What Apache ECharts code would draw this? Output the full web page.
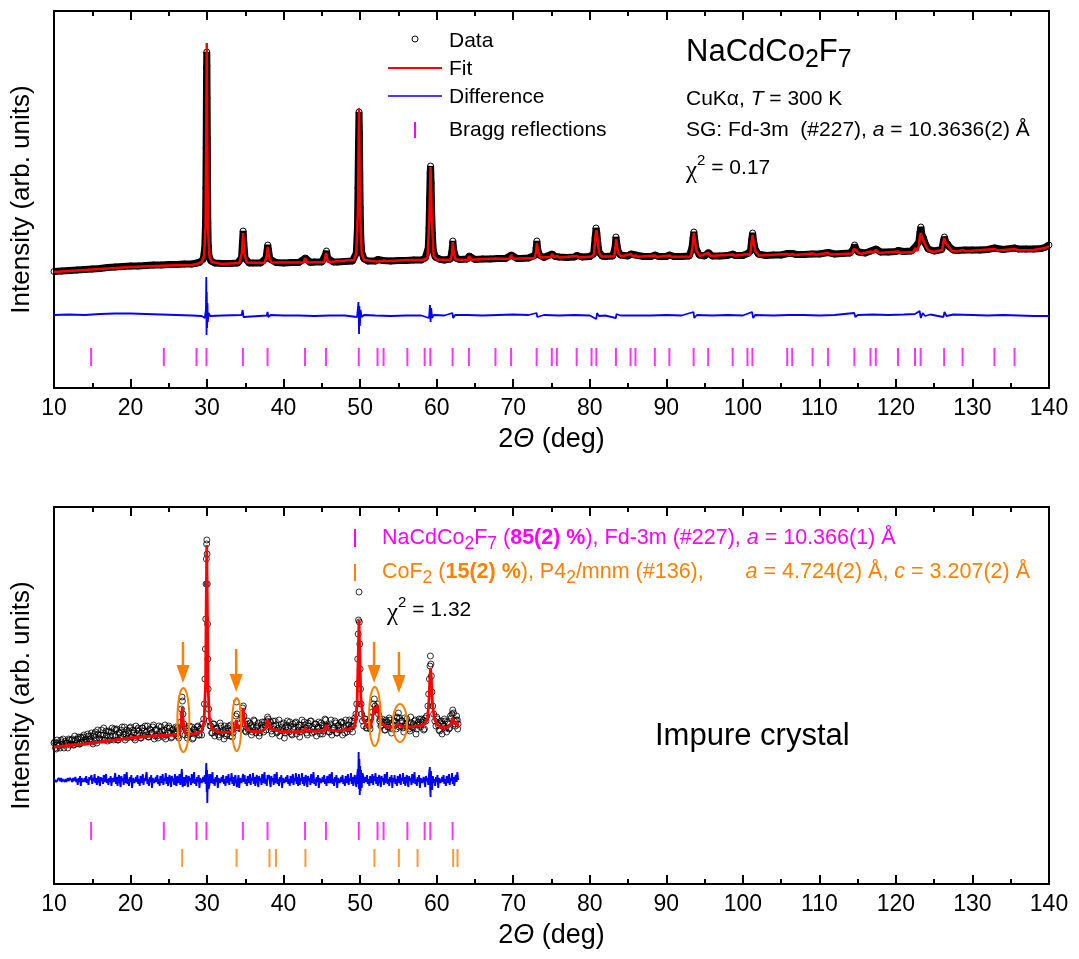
<!DOCTYPE html>
<html><head><meta charset="utf-8">
<script src="https://cdn.jsdelivr.net/npm/echarts@6/dist/echarts.min.js"></script>
<style>html,body{margin:0;padding:0;background:#fff}#c{width:1079px;height:959px}</style>
</head><body><div id="c"></div>
<script>
// ---------------- DATA ----------------
const xTickValues = [10,20,30,40,50,60,70,80,90,100,110,120,130,140];

// NaCdCo2F7 Bragg reflection positions (2theta, deg)
const braggNaCdCo2F7 = [14.85,24.35,28.62,29.92,34.68,37.9,42.8,45.53,49.82,52.27,53.06,56.17,58.43,59.17,62.08,64.21,67.68,69.72,73.06,75.04,75.7,78.29,80.23,80.86,83.42,85.33,85.97,88.5,90.4,93.57,95.47,98.67,100.6,101.25,105.8,106.45,109.11,111.13,114.57,116.68,117.37,120.27,122.49,123.23,126.3,128.71,132.87,135.5];
const braggNaCdCo2F7Impure = [14.85,24.35,28.62,29.92,34.68,37.9,42.8,45.53,49.82,52.27,53.06,56.17,58.43,59.17,62.08];
const braggCoF2 = [26.75,33.86,38.15,39.0,42.85,51.87,55.05,57.5,62.15,62.72];

// Top pattern (pure sample), intensity in arb. units
const topObs = [[10,116.5],[11,117],[12,117.5],[13,118],[14,118.5],[15,119],[16,119.5],[17,120.5],[18,121],[19,121.5],[20,122],[21,122],[22,122.5],[23,123],[24,123],[25,123.5],[26,123.5],[27,124],[28,124],[28.66,125],[29,125.5],[29.5,129],[29.7,140],[29.8,165],[29.85,200],[29.88,240],[29.91,285],[29.94,320],[29.96,336],[29.98,322],[30.0,290],[30.03,250],[30.06,205],[30.1,165],[30.15,142],[30.25,132],[30.5,127],[31,125],[32,124.5],[33,124.5],[34,125],[34.5,130],[34.62,145],[34.71,157],[34.8,145],[34.95,130],[35.5,125],[36,125],[37,125],[37.7,130],[37.85,138],[37.93,143],[38.02,138],[38.2,129],[39,125.5],[40,125],[41,125.5],[42,125.5],[42.83,130],[43.5,125.5],[44,126],[45,126],[45.5,134],[45.6,137],[45.75,130],[46.5,126],[47,126],[48,126.5],[49,127],[49.5,135],[49.65,160],[49.72,200],[49.78,240],[49.85,276],[49.9,255],[49.95,215],[50.0,180],[50.08,150],[50.2,136],[50.5,129],[51,127],[52,127],[52.3,128.5],[53,127.5],[54,127],[55,127.5],[56,127.5],[57,128],[58,128],[58.5,130],[58.9,140],[59.0,160],[59.08,190],[59.15,215],[59.2,222],[59.27,205],[59.33,180],[59.42,155],[59.55,138],[59.8,131],[60.5,128.5],[61,128],[61.8,129],[62.0,137],[62.11,147],[62.22,138],[62.5,130],[63,128.5],[64,129],[64.24,132],[65,128.5],[66,129],[67,129],[68,129.5],[69,129.5],[69.75,133],[70.5,129.5],[71,129.5],[72,130],[72.9,133],[73.0,140],[73.09,147],[73.2,139],[73.4,133],[74,130.5],[75.07,134],[75.5,131.5],[76,131],[77,130.5],[78,131],[78.32,132.5],[79,131],[80,131.5],[80.5,134],[80.7,150],[80.82,160],[80.92,155],[81.05,145],[81.2,136],[81.6,132],[82,131.5],[83,132],[83.3,140],[83.42,151],[83.55,143],[83.7,137],[84,133],[85,132],[85.36,134],[86,133],[87,131.5],[88,131.5],[88.53,133],[89,131.5],[90,131.5],[90.43,133],[91,131.5],[92,131.5],[93,132],[93.35,140],[93.5,150],[93.6,156],[93.72,148],[93.9,139],[94.3,133],[95,132],[95.5,135.5],[96,132],[97,132],[98,132.5],[98.7,134],[99,132.5],[100,132.5],[100.63,134.5],[101.0,137],[101.15,148],[101.28,155],[101.4,147],[101.6,139],[102,134],[103,132.5],[104,133],[105,133],[105.83,134.5],[106.48,134.5],[107,133.5],[108,133.5],[109,134],[110,134],[111.16,135.5],[112,134],[113,134.5],[114,135],[114.45,139],[114.6,143],[114.78,139],[115.1,136],[116,135],[116.71,137],[117.4,139],[118,136],[119,136],[120,136.5],[120.3,137.5],[121,136.5],[122,137],[122.52,141],[123.0,146],[123.15,156],[123.26,161],[123.4,153],[123.6,150],[123.8,145],[124.2,139],[125,137],[126,138.5],[126.2,147],[126.33,151],[126.5,146],[126.75,144],[127,141],[127.5,138],[128,137.5],[129,138],[130,138],[131,138],[132,138.5],[132.9,140],[134,138.5],[135.53,140],[136,139],[137,139],[138,139],[139,139.5],[139.6,141],[140,143]];

const topCalc = [[10,116],[15,118.5],[20,121],[25,122.5],[28,123],[28.66,124],[29.3,126],[29.6,132],[29.8,160],[29.9,260],[29.96,345],[30.02,260],[30.12,160],[30.3,132],[30.6,126],[32,124],[34.2,125],[34.55,135],[34.71,155],[34.87,135],[35.2,125.5],[37.5,125],[37.8,132],[37.93,141],[38.06,132],[38.4,125.5],[42.6,125.5],[42.83,130],[43.05,125.5],[45.3,126],[45.56,135],[45.8,126],[49.2,128],[49.5,135],[49.72,180],[49.85,280],[49.98,180],[50.2,135],[50.5,128],[52.1,126.5],[52.3,128],[52.5,126.5],[53.1,127.5],[53.4,126.8],[56.2,128],[58.2,128],[58.46,130],[58.8,130],[59.05,170],[59.2,221],[59.35,170],[59.6,132],[60,128.5],[61.8,128],[62.0,134],[62.11,146],[62.25,134],[62.5,128.5],[64.05,128],[64.24,132],[64.45,128.2],[67.7,129.5],[69.5,129],[69.75,133],[70,129.2],[72.8,130],[72.98,136],[73.09,145],[73.25,136],[73.5,130.5],[74.9,131],[75.07,134],[75.3,131],[75.73,132],[76,130.5],[78.32,132],[78.6,130.6],[80.3,131.5],[80.55,134],[80.75,152],[80.89,158],[81.05,146],[81.2,136],[81.5,131.5],[83.2,131.5],[83.35,140],[83.45,149],[83.6,140],[83.75,135],[84.1,131.5],[85.36,134],[85.7,131.5],[86.0,132.5],[86.3,131.2],[88.53,132.5],[88.8,131],[90.43,132.5],[90.7,131.2],[93.2,131.5],[93.4,140],[93.6,155],[93.78,145],[93.95,137],[94.4,132],[95.5,135],[95.8,132],[98.7,133.5],[99,132.2],[100.63,134],[100.9,132.5],[101.0,136],[101.15,146],[101.28,153],[101.45,144],[101.65,137],[102.1,132.5],[105.83,134],[106.1,133],[106.48,134],[106.8,133],[109.14,134.5],[109.5,133.2],[111.16,135],[111.5,133.5],[114.3,134.5],[114.48,139],[114.6,141],[114.8,138],[115.1,135],[115.5,134.2],[116.71,136.5],[117.05,135.5],[117.4,138],[117.8,135],[120.3,136.5],[120.6,135.2],[122.3,136],[122.52,140],[122.8,137],[123.0,142],[123.15,152],[123.26,155],[123.45,150],[123.6,148],[123.8,144],[124.2,138],[124.8,136],[126.05,138],[126.2,146],[126.33,150],[126.5,145],[126.75,143],[126.95,141],[127.3,137],[128,136.5],[128.74,138],[129.1,136.8],[132.9,139],[133.3,137.5],[135.53,139],[136,137.8],[138,138],[139.5,140],[140,142]];

const topDiff = [[10,73],[12,73.5],[14,73],[16,74],[18,74.5],[20,74.5],[22,74],[24,73.5],[26,73],[28,72.5],[29.3,72],[29.7,70],[29.85,78],[29.9,111],[29.93,53],[29.96,96],[30.0,60],[30.05,85],[30.1,66],[30.2,75],[30.4,72],[32,72.5],[34.5,73],[34.65,78],[34.75,71],[35,73],[37.8,72.5],[37.9,76],[38,71],[38.3,73],[40,72.5],[42,72.5],[44,72],[46,72.5],[48,72.5],[49.6,71],[49.78,86],[49.85,54],[49.9,82],[49.96,62],[50.05,78],[50.2,71],[50.5,73],[52,72.5],[54,72],[56,72.5],[58,72.5],[59.0,70],[59.12,83],[59.2,66],[59.28,80],[59.4,70],[59.6,73],[61,72.5],[62.05,75],[62.15,70],[62.4,73],[64,73],[66,72.5],[68,73],[70,73.5],[72,73],[73.05,75],[73.15,71],[74,73],[76,72.5],[78,73],[80,72.5],[80.85,69],[80.95,75],[81.2,72],[82,72.5],[83.4,70],[83.5,74],[84,72.5],[86,72.5],[88,72.5],[90,73],[92,72.5],[93.55,76],[93.65,70],[94,73],[96,72.5],[98,73],[100,72.5],[101.2,76],[101.35,70],[101.6,73],[104,72.5],[106,73],[108,73],[110,72.5],[112,73],[114.55,75],[114.7,71],[115,73],[117,73.5],[119,73],[121,73.5],[122.5,74],[123.1,77],[123.25,70],[123.5,75],[123.8,72],[124.5,73.5],[126.2,71],[126.35,76],[126.6,72],[127.5,73.5],[130,73],[132,72.5],[134,73],[136,72.5],[138,72],[140,72]];

// Bottom pattern (impure crystal)
const botObs = [[10.0,141],[10.2,136],[10.4,144],[10.6,139],[10.8,136],[11.0,142],[11.2,145],[11.4,139],[11.6,141],[11.8,136],[12.0,144],[12.2,140],[12.4,145],[12.6,139],[12.8,144],[13.0,141],[13.2,147],[13.4,140],[13.6,146],[13.8,147],[14.0,142],[14.2,144],[14.4,150],[14.6,144],[14.8,148],[15.0,142],[15.2,148],[15.4,152],[15.6,141],[15.8,150],[16.0,145],[16.2,154],[16.4,149],[16.6,144],[16.8,153],[17.0,143],[17.2,152],[17.4,148],[17.6,156],[17.8,144],[18.0,148],[18.2,155],[18.4,144],[18.6,151],[18.8,154],[19.0,147],[19.2,157],[19.4,150],[19.6,146],[19.8,153],[20.0,157],[20.2,147],[20.4,151],[20.6,144],[20.8,154],[21.0,156],[21.2,149],[21.4,146],[21.6,156],[21.8,153],[22.0,149],[22.2,158],[22.4,147],[22.6,154],[22.8,151],[23.0,159],[23.2,148],[23.4,155],[23.6,146],[23.8,152],[24.0,157],[24.2,149],[24.4,154],[24.6,145],[24.8,156],[25.0,158],[25.2,151],[25.4,147],[25.6,155],[25.8,150],[26.0,153],[26.2,148],[26.4,155],[26.55,162],[26.65,175],[26.72,187],[26.78,183],[26.85,170],[26.95,160],[27.1,149],[27.2,156],[27.4,146],[27.6,153],[27.8,150],[28.0,157],[28.2,146],[28.4,154],[28.6,151],[28.8,158],[29.0,149],[29.2,156],[29.4,160],[29.55,165],[29.65,180],[29.72,205],[29.78,235],[29.83,265],[29.87,300],[29.91,325],[29.94,340],[29.97,344],[30.0,330],[30.03,300],[30.06,260],[30.1,225],[30.14,195],[30.2,175],[30.28,163],[30.4,158],[30.6,151],[30.8,160],[31.0,148],[31.2,156],[31.4,153],[31.6,147],[31.8,158],[32.0,152],[32.2,145],[32.4,155],[32.6,150],[32.8,158],[33.0,148],[33.2,154],[33.4,151],[33.6,159],[33.75,168],[33.84,182],[33.92,170],[34.05,156],[34.2,160],[34.4,155],[34.55,165],[34.65,176],[34.74,178],[34.82,168],[34.95,160],[35.1,152],[35.2,160],[35.4,154],[35.6,161],[35.8,149],[36.0,157],[36.2,163],[36.4,151],[36.6,158],[36.8,148],[37.0,155],[37.2,162],[37.4,152],[37.6,159],[37.8,163],[37.9,167],[38.0,165],[38.15,157],[38.3,162],[38.5,150],[38.7,158],[38.9,163],[39.1,151],[39.3,156],[39.5,148],[39.7,160],[39.9,153],[40.1,146],[40.3,157],[40.5,163],[40.7,152],[40.9,158],[41.1,149],[41.3,155],[41.5,161],[41.7,150],[41.9,157],[42.1,147],[42.3,159],[42.5,154],[42.7,162],[42.9,156],[43.1,149],[43.3,158],[43.5,163],[43.7,151],[43.9,155],[44.1,160],[44.3,148],[44.5,157],[44.7,153],[44.9,161],[45.1,150],[45.3,158],[45.5,164],[45.7,157],[45.9,152],[46.1,160],[46.3,149],[46.5,156],[46.7,163],[46.9,151],[47.1,158],[47.3,154],[47.5,162],[47.7,149],[47.9,157],[48.1,164],[48.3,152],[48.5,159],[48.7,155],[48.9,163],[49.1,158],[49.3,166],[49.45,170],[49.55,180],[49.62,200],[49.68,225],[49.74,250],[49.79,264],[49.85,292],[49.9,262],[49.95,240],[50.0,215],[50.05,195],[50.12,180],[50.2,170],[50.3,163],[50.45,158],[50.6,165],[50.8,156],[51.0,162],[51.2,158],[51.4,166],[51.6,172],[51.75,180],[51.85,185],[51.95,178],[52.05,174],[52.2,176],[52.3,180],[52.4,170],[52.55,163],[52.7,158],[52.9,165],[53.1,161],[53.3,154],[53.5,162],[53.7,157],[53.9,164],[54.1,151],[54.3,159],[54.5,163],[54.7,155],[54.85,166],[55.0,171],[55.15,166],[55.3,158],[55.5,163],[55.7,152],[55.9,160],[56.1,165],[56.3,157],[56.5,153],[56.7,161],[56.9,156],[57.1,163],[57.3,150],[57.5,159],[57.7,165],[57.9,157],[58.1,162],[58.3,154],[58.5,166],[58.7,168],[58.85,178],[58.95,190],[59.05,205],[59.12,218],[59.18,228],[59.24,220],[59.3,208],[59.38,192],[59.48,178],[59.6,170],[59.75,163],[59.9,158],[60.1,165],[60.3,154],[60.5,161],[60.7,150],[60.9,158],[61.1,163],[61.3,152],[61.5,160],[61.7,156],[61.9,166],[62.0,170],[62.1,174],[62.2,171],[62.3,163],[62.45,158],[62.6,168],[62.7,164],[62.8,160]];

const botObsExtra = [[10.1,142],[10.3,135],[10.5,141],[10.7,138],[10.9,144],[11.1,140],[11.3,136],[11.5,143],[11.7,141],[11.9,145],[12.1,139],[12.3,144],[12.5,139],[12.7,148],[12.9,141],[13.1,145],[13.3,140],[13.5,147],[13.7,142],[13.9,149],[14.1,145],[14.3,142],[14.5,148],[14.7,145],[14.9,151],[15.1,140],[15.3,150],[15.5,144],[15.7,154],[15.9,146],[16.1,149],[16.3,144],[16.5,156],[16.7,146],[16.9,149],[17.1,153],[17.3,144],[17.5,152],[17.7,148],[17.9,155],[18.1,154],[18.3,144],[18.5,151],[18.7,147],[18.9,157],[19.1,150],[19.3,144],[19.5,154],[19.7,151],[19.9,156],[20.1,147],[20.3,154],[20.5,146],[20.7,158],[20.9,150],[21.1,153],[21.3,146],[21.5,156],[21.7,149],[21.9,158],[22.1,152],[22.3,147],[22.5,155],[22.7,151],[22.9,157],[23.1,145],[23.3,154],[23.5,148],[23.7,158],[23.9,150],[24.1,153],[24.3,147],[24.5,159],[24.7,149],[24.9,152],[25.1,156],[25.3,146],[25.5,154],[25.7,151],[25.9,157],[26.1,156],[26.3,146],[27.3,153],[27.5,149],[27.7,158],[27.9,151],[28.1,145],[28.3,155],[28.5,152],[28.7,157],[28.9,149],[29.1,155],[29.3,149],[30.5,158],[30.7,151],[30.9,160],[31.1,152],[31.3,155],[31.5,149],[31.7,161],[31.9,151],[32.1,154],[32.3,158],[32.5,148],[32.7,156],[32.9,153],[33.1,159],[33.3,147],[33.5,157],[35.0,153],[35.3,163],[35.5,155],[35.7,158],[35.9,152],[36.1,164],[36.3,154],[36.5,157],[36.7,161],[36.9,151],[37.1,159],[37.3,156],[37.5,162],[37.7,154],[38.1,160],[38.4,153],[38.6,163],[38.8,155],[39.0,159],[39.2,152],[39.4,164],[39.6,154],[39.8,157],[40.0,161],[40.2,151],[40.4,159],[40.6,156],[40.8,162],[41.0,150],[41.2,160],[41.4,157],[41.6,162],[41.8,153],[42.0,159],[42.2,152],[42.4,164],[42.6,155],[42.8,159],[43.0,151],[43.2,161],[43.4,154],[43.6,163],[43.8,157],[44.0,152],[44.2,160],[44.4,156],[44.6,162],[44.8,150],[45.0,159],[45.2,153],[45.4,165],[45.6,158],[45.8,158],[46.0,152],[46.2,164],[46.4,154],[46.6,157],[46.8,161],[47.0,151],[47.2,159],[47.4,156],[47.6,162],[47.8,161],[48.0,151],[48.2,158],[48.4,155],[48.6,164],[48.8,157],[49.0,152],[49.2,163],[50.7,165],[50.9,156],[51.1,162],[51.3,155],[52.6,165],[52.8,159],[53.0,162],[53.2,154],[53.4,164],[53.6,157],[53.8,166],[54.0,160],[54.2,155],[54.4,163],[54.6,159],[54.8,167],[55.1,157],[55.4,163],[55.6,156],[55.8,166],[56.0,158],[56.2,161],[56.4,155],[56.6,167],[56.8,157],[57.0,160],[57.2,164],[57.4,155],[57.6,162],[57.8,159],[58.0,165],[58.2,164],[58.4,155],[58.6,163],[60.0,167],[60.2,159],[60.4,153],[60.6,163],[60.8,160],[61.0,165],[61.2,156],[61.4,162],[61.6,155],[61.8,168],[62.4,160],[62.55,164],[62.75,155]];

const botCalc = [[10,137],[12,138.5],[14,140],[16,142],[18,144],[20,146],[22,147.5],[24,148.5],[26,149],[26.4,150],[26.6,160],[26.76,177],[26.92,160],[27.1,151],[27.6,149.5],[28.66,150.5],[29.3,153],[29.6,162],[29.8,200],[29.9,290],[29.96,339],[30.02,290],[30.12,200],[30.3,165],[30.6,156],[31,153],[32,151.5],[33.5,152],[33.7,158],[33.84,164],[33.98,157],[34.3,155],[34.55,162],[34.71,176],[34.87,163],[35.1,156],[35.6,153],[37,152],[37.7,156],[37.93,164],[38.1,160],[38.3,155],[38.98,154],[39.5,152.5],[41,152],[42.6,152.5],[42.83,156],[43.1,153],[45.3,153],[45.56,159],[45.8,154],[47,153],[48.5,154.5],[49.3,158],[49.6,180],[49.75,230],[49.85,264],[49.95,230],[50.1,185],[50.4,165],[50.8,158],[51.3,157],[51.6,165],[51.8,177],[51.95,172],[52.1,172],[52.3,179],[52.5,166],[52.8,160],[53.09,159],[53.5,157],[54.5,157],[54.85,159],[55.0,161],[55.2,159],[55.6,157],[56.2,157.5],[56.6,157],[57.4,158],[58.1,158.5],[58.46,160],[58.8,165],[59.0,185],[59.1,205],[59.2,216],[59.3,205],[59.45,180],[59.7,165],[60.1,159],[60.6,156.5],[61.5,157],[61.9,160],[62.11,166],[62.3,160],[62.5,158],[62.65,162],[62.8,156]];

const botDiff = [[10.0,105],[10.1,103],[10.2,106],[10.3,102],[10.4,104],[10.5,102],[10.6,106],[10.7,104],[10.8,103],[10.9,106],[11.0,102],[11.1,105],[11.2,104],[11.3,107],[11.4,102],[11.5,105],[11.6,102],[11.7,104],[11.8,106],[11.9,103],[12.0,101],[12.1,106],[12.2,104],[12.3,105],[12.4,102],[12.5,106],[12.6,103],[12.7,104],[12.8,107],[12.9,102],[13.0,105],[13.1,99],[13.2,106],[13.3,102],[13.4,108],[13.5,98],[13.6,106],[13.7,107],[13.8,102],[13.9,103],[14.0,106],[14.1,102],[14.2,108],[14.3,101],[14.4,105],[14.5,99],[14.6,107],[14.7,104],[14.8,102],[14.9,109],[15.0,100],[15.1,106],[15.2,103],[15.3,110],[15.4,101],[15.5,106],[15.6,99],[15.7,105],[15.8,108],[15.9,102],[16.0,98],[16.1,107],[16.2,103],[16.3,106],[16.4,100],[16.5,109],[16.6,102],[16.7,104],[16.8,110],[16.9,101],[17.0,105],[17.1,99],[17.2,106],[17.3,102],[17.4,108],[17.5,98],[17.6,106],[17.7,107],[17.8,102],[17.9,103],[18.0,111],[18.1,100],[18.2,107],[18.3,98],[18.4,105],[18.5,109],[18.6,102],[18.7,97],[18.8,108],[18.9,103],[19.0,106],[19.1,99],[19.2,110],[19.3,101],[19.4,104],[19.5,112],[19.6,100],[19.7,105],[19.8,98],[19.9,107],[20.0,102],[20.1,109],[20.2,96],[20.3,106],[20.4,108],[20.5,101],[20.6,103],[20.7,107],[20.8,102],[20.9,109],[21.0,100],[21.1,105],[21.2,98],[21.3,108],[21.4,104],[21.5,101],[21.6,110],[21.7,99],[21.8,106],[21.9,103],[22.0,104],[22.1,112],[22.2,100],[22.3,105],[22.4,98],[22.5,107],[22.6,102],[22.7,109],[22.8,96],[22.9,106],[23.0,108],[23.1,101],[23.2,103],[23.3,107],[23.4,102],[23.5,109],[23.6,100],[23.7,105],[23.8,98],[23.9,108],[24.0,104],[24.1,101],[24.2,110],[24.3,99],[24.4,106],[24.5,103],[24.6,111],[24.7,100],[24.8,107],[24.9,98],[25.0,105],[25.1,109],[25.2,102],[25.3,97],[25.4,108],[25.5,103],[25.6,106],[25.7,99],[25.8,110],[25.9,101],[26.0,98],[26.1,108],[26.2,104],[26.3,101],[26.4,110],[26.5,99],[26.6,106],[26.7,115],[26.8,97],[26.9,100],[27.0,107],[27.1,98],[27.2,105],[27.3,109],[27.4,102],[27.5,97],[27.6,108],[27.7,103],[27.8,106],[27.9,99],[28.0,110],[28.1,101],[28.2,104],[28.3,112],[28.4,100],[28.5,105],[28.6,98],[28.7,107],[28.8,102],[28.9,109],[29.0,96],[29.1,106],[29.2,108],[29.3,101],[29.4,103],[29.5,107],[29.6,102],[29.7,109],[29.8,100],[29.9,121],[29.95,92],[30.0,114],[30.03,81],[30.1,110],[30.2,95],[30.3,99],[30.4,110],[30.5,101],[30.6,104],[30.7,112],[30.8,100],[30.9,105],[31.0,98],[31.1,107],[31.2,102],[31.3,109],[31.4,96],[31.5,106],[31.6,108],[31.7,101],[31.8,103],[31.9,107],[32.0,102],[32.1,109],[32.2,100],[32.3,105],[32.4,98],[32.5,108],[32.6,104],[32.7,101],[32.8,110],[32.9,99],[33.0,106],[33.1,103],[33.2,111],[33.3,100],[33.4,107],[33.5,98],[33.6,105],[33.7,109],[33.8,102],[33.9,97],[34.0,102],[34.1,109],[34.2,96],[34.3,106],[34.4,108],[34.5,101],[34.6,103],[34.7,110],[34.8,102],[34.9,109],[35.0,100],[35.1,105],[35.2,98],[35.3,108],[35.4,104],[35.5,101],[35.6,110],[35.7,99],[35.8,106],[35.9,103],[36.0,111],[36.1,100],[36.2,107],[36.3,98],[36.4,105],[36.5,109],[36.6,102],[36.7,97],[36.8,108],[36.9,103],[37.0,106],[37.1,99],[37.2,110],[37.3,101],[37.4,104],[37.5,112],[37.6,100],[37.7,105],[37.8,98],[37.9,109],[38.0,105],[38.1,109],[38.2,102],[38.3,97],[38.4,108],[38.5,103],[38.6,106],[38.7,99],[38.8,110],[38.9,101],[39.0,104],[39.1,112],[39.2,100],[39.3,105],[39.4,98],[39.5,107],[39.6,102],[39.7,109],[39.8,96],[39.9,106],[40.0,108],[40.1,101],[40.2,103],[40.3,107],[40.4,102],[40.5,109],[40.6,100],[40.7,105],[40.8,98],[40.9,108],[41.0,104],[41.1,101],[41.2,110],[41.3,99],[41.4,106],[41.5,103],[41.6,111],[41.7,100],[41.8,107],[41.9,98],[42.0,110],[42.1,99],[42.2,106],[42.3,103],[42.4,111],[42.5,100],[42.6,107],[42.7,98],[42.8,105],[42.9,109],[43.0,102],[43.1,97],[43.2,108],[43.3,103],[43.4,106],[43.5,99],[43.6,110],[43.7,101],[43.8,104],[43.9,112],[44.0,100],[44.1,105],[44.2,98],[44.3,107],[44.4,102],[44.5,109],[44.6,96],[44.7,106],[44.8,108],[44.9,101],[45.0,103],[45.1,107],[45.2,102],[45.3,109],[45.4,100],[45.5,105],[45.6,98],[45.7,108],[45.8,104],[45.9,101],[46.0,110],[46.1,101],[46.2,104],[46.3,112],[46.4,100],[46.5,105],[46.6,98],[46.7,107],[46.8,102],[46.9,109],[47.0,96],[47.1,106],[47.2,108],[47.3,101],[47.4,103],[47.5,107],[47.6,102],[47.7,109],[47.8,100],[47.9,105],[48.0,98],[48.1,108],[48.2,104],[48.3,101],[48.4,110],[48.5,99],[48.6,106],[48.7,103],[48.8,111],[48.9,100],[49.0,107],[49.1,98],[49.2,105],[49.3,109],[49.4,102],[49.5,97],[49.6,108],[49.7,115],[49.75,100],[49.8,132],[49.85,95],[49.9,125],[49.95,89],[50.0,118],[50.05,93],[50.1,114],[50.2,96],[50.3,111],[50.4,108],[50.5,101],[50.6,103],[50.7,107],[50.8,102],[50.9,109],[51.0,100],[51.1,105],[51.2,98],[51.3,108],[51.4,104],[51.5,101],[51.6,110],[51.7,99],[51.8,108],[51.9,103],[52.0,111],[52.1,100],[52.2,107],[52.3,98],[52.4,105],[52.5,109],[52.6,102],[52.7,97],[52.8,108],[52.9,103],[53.0,106],[53.1,99],[53.2,110],[53.3,101],[53.4,104],[53.5,112],[53.6,100],[53.7,105],[53.8,98],[53.9,107],[54.0,102],[54.1,109],[54.2,96],[54.3,106],[54.4,102],[54.5,109],[54.6,100],[54.7,105],[54.8,98],[54.9,108],[55.0,104],[55.1,101],[55.2,110],[55.3,99],[55.4,106],[55.5,103],[55.6,111],[55.7,100],[55.8,107],[55.9,98],[56.0,105],[56.1,109],[56.2,102],[56.3,97],[56.4,108],[56.5,103],[56.6,106],[56.7,99],[56.8,110],[56.9,101],[57.0,104],[57.1,112],[57.2,100],[57.3,105],[57.4,98],[57.5,107],[57.6,102],[57.7,109],[57.8,96],[57.9,106],[58.0,108],[58.1,101],[58.2,103],[58.3,107],[58.4,102],[58.5,97],[58.6,108],[58.7,103],[58.8,106],[58.9,99],[59.0,110],[59.1,117],[59.15,95],[59.2,87],[59.25,113],[59.3,100],[59.4,94],[59.5,108],[59.6,101],[59.7,105],[59.8,98],[59.9,107],[60.0,102],[60.1,109],[60.2,96],[60.3,106],[60.4,108],[60.5,101],[60.6,103],[60.7,107],[60.8,102],[60.9,109],[61.0,100],[61.1,105],[61.2,98],[61.3,108],[61.4,104],[61.5,101],[61.6,110],[61.7,99],[61.8,106],[61.9,103],[62.0,111],[62.1,100],[62.2,107],[62.3,98],[62.4,105],[62.5,109],[62.6,102],[62.7,112],[62.8,104]];

// Impurity markers: [2theta center, intensity center, width (deg), height (arb.)]
const impurityEllipses = [[26.9,164,1.57,64],[33.87,159.5,1.2,53],[51.91,167.5,1.5,59],[55.2,161,1.83,38]];
// Arrows: [2theta, intensity top, intensity tip]
const impurityArrows = [[26.85,242,201],[33.8,235,192],[51.82,242,201],[55.07,232,191]];

// ---------------- STYLE / LAYOUT ----------------
const FONT = '"Liberation Sans", Arial, Helvetica, sans-serif';
const MAGENTA = '#ff00ff', ORANGE = '#ff8000', RED = '#ff0000', BLUE = '#0000ff';
const Y_MAX = 377;
const BRAGG_Y_TOP = 31, BRAGG_Y_BOT_MAIN = 53, BRAGG_Y_BOT_IMP = 26;

const chart = echarts.init(document.getElementById('c'), null, {renderer: 'canvas'});

function xAxisCfg(gi, pos, labels) {
  return {
    type: 'value', gridIndex: gi, position: pos, min: 10, max: 140, interval: 10,
    axisLine: {show: true, onZero: false, lineStyle: {color: '#000', width: 2}},
    axisTick: {show: true, inside: true, length: 9, lineStyle: {color: '#000', width: 2}},
    minorTick: {show: true, splitNumber: 2, length: 5, lineStyle: {color: '#000', width: 2}},
    axisLabel: {show: labels, fontSize: 23, color: '#000', margin: 9, fontFamily: FONT,
      formatter: v => xTickValues.indexOf(v) >= 0 ? String(v) : ''},
    splitLine: {show: false},
    name: labels ? '2{i|Θ} (deg)' : '', nameLocation: 'middle', nameGap: 38,
    nameTextStyle: {fontSize: 27, color: '#000', fontFamily: FONT,
      rich: {i: {fontSize: 27, fontStyle: 'italic', fontFamily: FONT, color: '#000'}}}
  };
}
function yAxisCfg(gi, pos, named) {
  return {
    type: 'value', gridIndex: gi, position: pos, min: 0, max: Y_MAX,
    axisLine: {show: true, onZero: false, lineStyle: {color: '#000', width: 2}},
    axisTick: {show: false}, axisLabel: {show: false}, splitLine: {show: false},
    name: named ? 'Intensity (arb. units)' : '', nameLocation: 'middle', nameGap: 19,
    nameTextStyle: {fontSize: 26, color: '#000', fontFamily: FONT}
  };
}

function ellipseRender(params, api) {
  const c = api.coord([api.value(0), api.value(1)]);
  const s = api.size([api.value(2), api.value(3)]);
  const rx = s[0] / 2, ry = s[1] / 2, pts = [];
  for (let i = 0; i < 60; i++) {
    const a = i / 60 * Math.PI * 2;
    pts.push([c[0] + rx * Math.cos(a), c[1] + ry * Math.sin(a)]);
  }
  return {type: 'polygon', shape: {points: pts}, style: {fill: 'none', stroke: ORANGE, lineWidth: 2}};
}
function arrowRender(params, api) {
  const t = api.coord([api.value(0), api.value(1)]);
  const b = api.coord([api.value(0), api.value(2)]);
  return {type: 'group', children: [
    {type: 'line', shape: {x1: t[0], y1: t[1], x2: b[0], y2: b[1] - 14}, style: {stroke: ORANGE, lineWidth: 2.5}},
    {type: 'polygon', shape: {points: [[b[0] - 6.5, b[1] - 18], [b[0] + 6.5, b[1] - 18], [b[0], b[1]]]}, style: {fill: ORANGE}}
  ]};
}

const tickSeries = (name, arr, xi, yi, y, color) => ({
  name, type: 'scatter', xAxisIndex: xi, yAxisIndex: yi, symbol: 'rect', symbolSize: [2, 18],
  itemStyle: {color}, data: arr.map(v => [v, y]), silent: true, z: 3
});

const txt = (x, y, text, fontSize, extra) => ({
  type: 'text', x, y, silent: true,
  style: Object.assign({text, fontSize, fontFamily: FONT, fill: '#000', align: 'left', verticalAlign: 'middle'}, extra || {})
});

const option = {
  animation: false,
  backgroundColor: '#fff',
  textStyle: {fontFamily: FONT},
  grid: [
    {left: 54, top: 11, width: 995, height: 377},
    {left: 54, top: 507, width: 995, height: 377}
  ],
  xAxis: [xAxisCfg(0, 'bottom', true), xAxisCfg(0, 'top', false), xAxisCfg(1, 'bottom', true), xAxisCfg(1, 'top', false)],
  yAxis: [yAxisCfg(0, 'left', true), yAxisCfg(0, 'right', false), yAxisCfg(1, 'left', true), yAxisCfg(1, 'right', false)],
  series: [
    {name: 'Data', type: 'line', xAxisIndex: 0, yAxisIndex: 0, data: topObs, symbol: 'circle', symbolSize: 6,
      showAllSymbol: true, lineStyle: {color: '#000', width: 7},
      itemStyle: {color: 'rgba(0,0,0,0)', borderColor: '#000', borderWidth: 1}, z: 2},
    {name: 'Fit', type: 'line', xAxisIndex: 0, yAxisIndex: 0, data: topCalc, showSymbol: false,
      lineStyle: {color: RED, width: 2.5}, z: 4},
    {name: 'Difference', type: 'line', xAxisIndex: 0, yAxisIndex: 0, data: topDiff, showSymbol: false,
      lineStyle: {color: BLUE, width: 1.8}, z: 4},
    tickSeries('Bragg reflections', braggNaCdCo2F7, 0, 0, BRAGG_Y_TOP, MAGENTA),

    {name: 'Data (impure)', type: 'scatter', xAxisIndex: 2, yAxisIndex: 2, data: botObs.concat(botObsExtra), symbol: 'circle', symbolSize: 6,
      itemStyle: {color: 'rgba(0,0,0,0)', borderColor: '#000', borderWidth: 1}, z: 2},
    {name: 'Fit (impure)', type: 'line', xAxisIndex: 2, yAxisIndex: 2, data: botCalc, showSymbol: false,
      lineStyle: {color: RED, width: 2.8}, z: 4},
    {name: 'Difference (impure)', type: 'line', xAxisIndex: 2, yAxisIndex: 2, data: botDiff, showSymbol: false,
      lineStyle: {color: BLUE, width: 1.9}, z: 4},
    tickSeries('NaCdCo2F7', braggNaCdCo2F7Impure, 2, 2, BRAGG_Y_BOT_MAIN, MAGENTA),
    tickSeries('CoF2', braggCoF2, 2, 2, BRAGG_Y_BOT_IMP, ORANGE),
    {type: 'custom', xAxisIndex: 2, yAxisIndex: 2, data: impurityEllipses, renderItem: ellipseRender, silent: true, z: 5},
    {type: 'custom', xAxisIndex: 2, yAxisIndex: 2, data: impurityArrows, renderItem: arrowRender, silent: true, z: 5}
  ],
  graphic: [
    // legend of top panel
    {type: 'circle', shape: {cx: 415, cy: 39, r: 3}, style: {fill: '#fff', stroke: '#000', lineWidth: 1}, silent: true},
    {type: 'line', shape: {x1: 388, y1: 68, x2: 442, y2: 68}, style: {stroke: RED, lineWidth: 2}, silent: true},
    {type: 'line', shape: {x1: 388, y1: 96, x2: 442, y2: 96}, style: {stroke: BLUE, lineWidth: 1.5}, silent: true},
    {type: 'line', shape: {x1: 415, y1: 122, x2: 415, y2: 138}, style: {stroke: MAGENTA, lineWidth: 2}, silent: true},
    txt(449, 41, 'Data', 21),
    txt(449, 69, 'Fit', 21),
    txt(449, 97, 'Difference', 21),
    txt(449, 130, 'Bragg reflections', 21),
    // annotations top
    txt(686, 52, '{n|NaCdCo}{s|2}{n|F}{s|7}', 31, {rich: {n: {fontSize: 31, fontFamily: FONT}, s: {fontSize: 25, fontFamily: FONT, padding: [16, 0, 0, 0]}}}),
    txt(686, 99, 'CuKα, {i|T} = 300 K', 21, {rich: {i: {fontSize: 21, fontStyle: 'italic', fontFamily: FONT}}}),
    txt(686, 130, 'SG: Fd-3m  (#227), {i|a} = 10.3636(2) Å', 21, {rich: {i: {fontSize: 21, fontStyle: 'italic', fontFamily: FONT}}}),
    txt(686, 168, '{c|χ}{p|2}{t| = 0.17}', 21, {rich: {c: {fontSize: 25, fontFamily: '"Liberation Serif", serif', padding: [6, 0, 0, 0]}, p: {fontSize: 15, fontFamily: FONT, padding: [0, 0, 14, 0]}, t: {fontSize: 21, fontFamily: FONT}}}),
    // legend of bottom panel
    {type: 'line', shape: {x1: 355, y1: 529, x2: 355, y2: 547}, style: {stroke: MAGENTA, lineWidth: 2}, silent: true},
    {type: 'line', shape: {x1: 355, y1: 564, x2: 355, y2: 581}, style: {stroke: ORANGE, lineWidth: 2}, silent: true},
    txt(382, 538, '{m|NaCdCo}{ms|2}{m|F}{ms|7}{m| (}{mb|85(2) %}{m|), Fd-3m (#227), }{mi|a}{m| = 10.366(1) Å}', 21.5, {fill: MAGENTA, rich: {
      m: {fontSize: 21.5, fill: MAGENTA, fontFamily: FONT},
      ms: {fontSize: 17.5, fill: MAGENTA, fontFamily: FONT, padding: [12, 0, 0, 0]},
      mb: {fontSize: 21.5, fill: MAGENTA, fontWeight: 'bold', fontFamily: FONT},
      mi: {fontSize: 21.5, fill: MAGENTA, fontStyle: 'italic', fontFamily: FONT}}}),
    txt(382, 572, '{o|CoF}{os|2}{o| (}{ob|15(2) %}{o|), P4}{os|2}{o|/mnm (#136),       }{oi|a}{o| = 4.724(2) Å, }{oi|c}{o| = 3.207(2) Å}', 21.5, {fill: ORANGE, rich: {
      o: {fontSize: 21.5, fill: ORANGE, fontFamily: FONT},
      os: {fontSize: 17.5, fill: ORANGE, fontFamily: FONT, padding: [12, 0, 0, 0]},
      ob: {fontSize: 21.5, fill: ORANGE, fontWeight: 'bold', fontFamily: FONT},
      oi: {fontSize: 21.5, fill: ORANGE, fontStyle: 'italic', fontFamily: FONT}}}),
    txt(387, 610, '{c|χ}{p|2}{t| = 1.32}', 21, {rich: {c: {fontSize: 25, fontFamily: '"Liberation Serif", serif', padding: [6, 0, 0, 0]}, p: {fontSize: 15, fontFamily: FONT, padding: [0, 0, 14, 0]}, t: {fontSize: 21, fontFamily: FONT}}}),
    txt(655, 736, 'Impure crystal', 31)
  ]
};
chart.setOption(option);
</script>
</body></html>
